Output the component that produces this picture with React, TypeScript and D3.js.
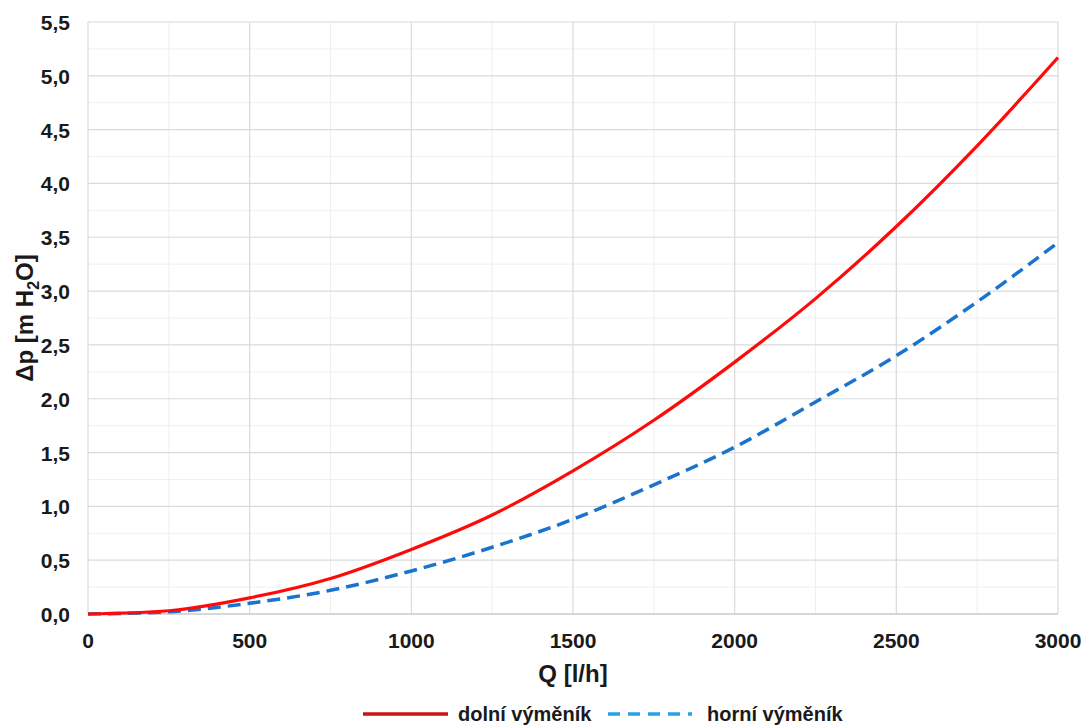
import React from "react";
import * as d3 from "d3";

const flows = [0, 250, 500, 750, 1000, 1250, 1500, 1750, 2000, 2250, 2500, 2750, 3000];
const dolni = [0, 0.03, 0.15, 0.33, 0.6, 0.92, 1.33, 1.8, 2.34, 2.93, 3.6, 4.35, 5.17];
const horni = [0, 0.02, 0.1, 0.22, 0.4, 0.62, 0.88, 1.2, 1.55, 1.97, 2.4, 2.9, 3.45];
const xTicks = [0, 500, 1000, 1500, 2000, 2500, 3000];
const yTicks = [0, 0.5, 1, 1.5, 2, 2.5, 3, 3.5, 4, 4.5, 5, 5.5];
const xMinor = [250, 750, 1250, 1750, 2250, 2750];
const yMinor = [0.25, 0.75, 1.25, 1.75, 2.25, 2.75, 3.25, 3.75, 4.25, 4.75, 5.25];

const W = 1088, H = 728;
const L = 88, R = 1058, T = 22, B = 614;

export default function App() {
  const x = d3.scaleLinear().domain([0, 3000]).range([L, R]);
  const y = d3.scaleLinear().domain([0, 5.5]).range([B, T]);
  const line = d3.line<number>().x((_, i) => x(flows[i])).y((d) => y(d)).curve(d3.curveMonotoneX);
  const font = "'Liberation Sans', Arial, sans-serif";
  const fmt = (v: number) => v.toFixed(1).replace(".", ",");
  return (
    <svg width={W} height={H} style={{ position: "absolute", left: 0, top: 0 }} fontFamily={font}>
      <rect width={W} height={H} fill="#fff" />
      {xMinor.map((v) => (
        <line key={"xm" + v} x1={x(v)} x2={x(v)} y1={T} y2={B} stroke="#efefef" strokeWidth={1} />
      ))}
      {yMinor.map((v) => (
        <line key={"ym" + v} x1={L} x2={R} y1={y(v)} y2={y(v)} stroke="#efefef" strokeWidth={1} />
      ))}
      {xTicks.map((v) => (
        <line key={"xg" + v} x1={x(v)} x2={x(v)} y1={T} y2={B} stroke="#dadada" strokeWidth={1.2} />
      ))}
      {yTicks.map((v) => (
        <line key={"yg" + v} x1={L} x2={R} y1={y(v)} y2={y(v)} stroke="#dadada" strokeWidth={1.2} />
      ))}
      <line x1={L} x2={R} y1={B} y2={B} stroke="#d0d0d0" strokeWidth={1.5} />
      {yTicks.map((v) => (
        <text key={"yt" + v} x={70} y={y(v) + 8} textAnchor="end" fontSize={21} fontWeight="bold" fill="#1a1a1a">
          {fmt(v)}
        </text>
      ))}
      {xTicks.map((v) => (
        <text key={"xt" + v} x={x(v)} y={648} textAnchor="middle" fontSize={21} fontWeight="bold" fill="#1a1a1a">
          {v}
        </text>
      ))}
      <text x={573} y={682} textAnchor="middle" fontSize={24} fontWeight="bold" fill="#1a1a1a">
        Q [l/h]
      </text>
      <text transform={`translate(33,318) rotate(-90)`} textAnchor="middle" fontSize={24} fontWeight="bold" fill="#1a1a1a">
        Δp [m H<tspan fontSize={16} dy={6}>2</tspan><tspan dy={-6}>O]</tspan>
      </text>
      <path d={line(horni) || ""} fill="none" stroke="#1a73cc" strokeWidth={3.5} strokeDasharray="13,7" />
      <path d={line(dolni) || ""} fill="none" stroke="#ff0a0a" strokeWidth={3.2} />
      <line x1={363} x2={448} y1={714} y2={714} stroke="#cc1018" strokeWidth={3.5} />
      <text x={458} y={721} fontSize={20} fontWeight="bold" fill="#1a1a1a">dolní výměník</text>
      <line x1={608} x2={692} y1={714} y2={714} stroke="#28a0e8" strokeWidth={3.5} strokeDasharray="12,8" />
      <text x={707} y={721} fontSize={20} fontWeight="bold" fill="#1a1a1a">horní výměník</text>
    </svg>
  );
}
